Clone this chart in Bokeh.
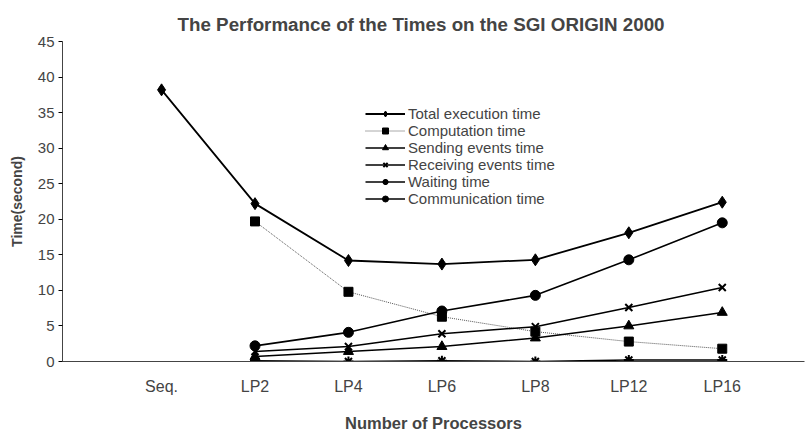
from bokeh.plotting import figure
from bokeh.models import Range1d, FixedTicker, Legend, LegendItem
from bokeh.embed import file_html
from bokeh.resources import INLINE

categories = ["Seq.", "LP2", "LP4", "LP6", "LP8", "LP12", "LP16"]
total_time = [38.2, 22.2, 14.2, 13.7, 14.3, 18.1, 22.4]
computation_time = [None, 19.7, 9.8, 6.3, 4.2, 2.8, 1.8]
sending_time = [None, 0.7, 1.4, 2.1, 3.3, 5.0, 6.9]
receiving_time = [None, 1.4, 2.1, 3.9, 4.9, 7.6, 10.4]
waiting_time = [None, 0.1, 0.0, 0.1, 0.0, 0.2, 0.2]
communication_time = [None, 2.2, 4.1, 7.1, 9.3, 14.3, 19.5]
y_ticks = [0, 5, 10, 15, 20, 25, 30, 35, 40, 45]

FONT = "Liberation Sans"

p = figure(width=812, height=434, output_backend="svg", toolbar_location=None,
           x_range=Range1d(-0.06, 7.88), y_range=Range1d(0, 45),
           min_border_left=62, min_border_right=8, min_border_bottom=72, min_border_top=41)
p.outline_line_color = None
p.xgrid.grid_line_color = None
p.ygrid.grid_line_color = None
p.background_fill_color = "white"

p.title.text = "The Performance of the Times on the SGI ORIGIN 2000"
p.title.align = "left"
p.title.vertical_align = "top"
p.title.offset = 115
p.title.standoff = 10
p.title.text_font = FONT
p.title.text_font_size = "18.8px"
p.title.text_font_style = "bold"

xs = list(range(1, len(categories) + 1))

def pts(vals):
    x = [xx for xx, v in zip(xs, vals) if v is not None]
    y = [v for v in vals if v is not None]
    return x, y

items = []
specs = [
    ("Total execution time", total_time, "diamond", 12, "solid", 1.8, "black"),
    ("Computation time", computation_time, "square", 9, "1 1", 1.0, "#555555"),
    ("Sending events time", sending_time, "triangle", 10, "solid", 1.5, "black"),
    ("Receiving events time", receiving_time, "x", 10, "solid", 1.5, "black"),
    ("Waiting time", waiting_time, "asterisk", 10, "solid", 1.5, "black"),
    ("Communication time", communication_time, "circle", 10, "solid", 1.6, "black"),
]
for name, vals, marker, size, dash, lw, col in specs:
    x, y = pts(vals)
    r1 = p.line(x, y, line_color=col, line_width=lw, line_dash=dash)
    r2 = p.scatter(x, y, marker=marker, size=size, fill_color="black",
                   line_color="black", line_width=2 if marker in ("x", "asterisk") else 1)
    items.append(LegendItem(label=name, renderers=[r1, r2]))

legend = Legend(items=items, location=(303, 154), border_line_color=None,
                background_fill_alpha=0, padding=0, margin=0, spacing=0,
                glyph_width=40, glyph_height=15, label_height=15, label_standoff=3,
                label_text_font=FONT, label_text_font_size="15px")
p.add_layout(legend, "center")

p.xaxis.ticker = FixedTicker(ticks=xs)
p.xaxis.major_label_overrides = {i: c for i, c in zip(xs, categories)}
p.xaxis.major_tick_line_color = None
p.xaxis.major_tick_out = 0
p.xaxis.major_tick_in = 0
p.xaxis.minor_tick_line_color = None
p.xaxis.major_label_standoff = 16
p.xaxis.major_label_text_font = FONT
p.xaxis.major_label_text_font_size = "16px"
p.xaxis.axis_label = "Number of Processors"
p.xaxis.axis_label_text_font = FONT
p.xaxis.axis_label_text_font_size = "16.5px"
p.xaxis.axis_label_text_font_style = "bold"
p.xaxis.axis_label_standoff = 16
p.xaxis.axis_line_color = "#444444"

p.yaxis.ticker = FixedTicker(ticks=y_ticks)
p.yaxis.minor_tick_line_color = None
p.yaxis.major_tick_out = 4
p.yaxis.major_tick_in = 0
p.yaxis.major_label_standoff = 4
p.yaxis.major_label_text_font = FONT
p.yaxis.major_label_text_font_size = "15px"
p.yaxis.axis_label = "Time(second)"
p.yaxis.axis_label_text_font = FONT
p.yaxis.axis_label_text_font_size = "14px"
p.yaxis.axis_label_text_font_style = "bold"
p.yaxis.axis_label_standoff = 10
p.yaxis.axis_line_color = "#444444"

open("out.html", "w").write(file_html(p, INLINE))
